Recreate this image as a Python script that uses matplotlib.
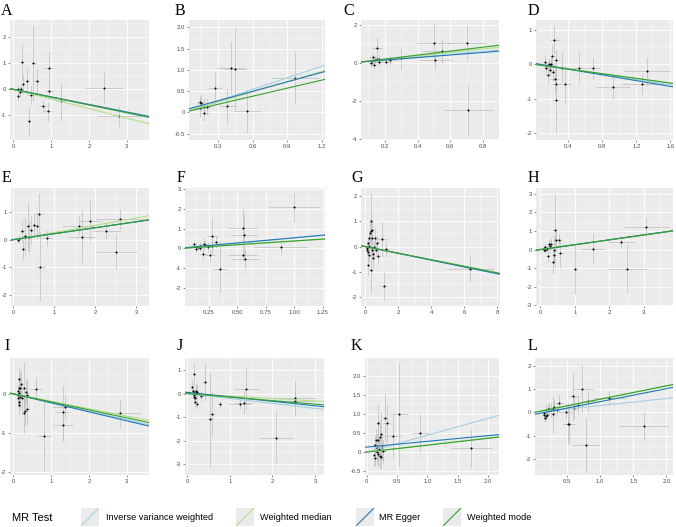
import matplotlib
matplotlib.use('Agg')
import matplotlib.pyplot as plt
import numpy as np

plt.rcParams['font.family'] = ['Liberation Sans', 'DejaVu Sans']

# ---------------- data ----------------
panel_labels = list('ABCDEFGHIJKL')

A_x = [0.11,0.13,0.18,0.19,0.22,0.26,0.35,0.41,0.47,0.53,0.62,0.79,0.91,0.93,0.95,1.25,2.40,2.80]
A_y = [0.01,-0.25,-0.10,0.03,1.06,0.22,0.32,-1.23,-0.22,1.02,0.32,-0.66,-0.85,0.83,-0.08,-0.45,0.05,-1.04]
A_sx = [0.04,0.04,0.05,0.05,0.05,0.06,0.07,0.06,0.08,0.07,0.09,0.10,0.10,0.12,0.10,0.12,0.50,0.57]
A_sy = [0.15,0.20,0.20,0.15,0.70,0.35,0.55,0.55,0.35,1.45,0.45,0.25,0.35,0.65,0.30,0.75,0.60,0.40]

B_x = [0.14,0.146,0.15,0.175,0.18,0.20,0.27,0.38,0.41,0.45,0.55,0.97]
B_y = [0.10,0.24,0.22,0.13,-0.02,0.13,0.57,0.14,1.05,1.03,0.02,0.81]
B_sx = [0.03,0.03,0.03,0.04,0.04,0.04,0.06,0.07,0.12,0.10,0.12,0.21]
B_sy = [0.20,0.15,0.20,0.20,0.18,0.20,0.37,0.42,0.62,0.98,0.50,0.61]

C_x = [0.112,0.118,0.122,0.13,0.138,0.147,0.15,0.159,0.159,0.204,0.23,0.297,0.50,0.508,0.547,0.70,0.71]
C_y = [-0.02,0.11,0.29,-0.13,0.14,0.20,0.79,0.20,0.04,0.05,0.16,0.25,1.04,0.14,0.61,1.04,-2.48]
C_sx = [0.02,0.02,0.02,0.02,0.02,0.03,0.03,0.03,0.03,0.04,0.04,0.06,0.11,0.10,0.12,0.12,0.15]
C_sy = [0.15,0.20,0.25,0.20,0.20,0.20,0.58,0.20,0.20,0.15,0.20,0.60,1.07,0.50,0.67,0.94,1.34]

D_x = [0.13,0.14,0.165,0.17,0.18,0.19,0.20,0.21,0.22,0.235,0.24,0.25,0.255,0.255,0.32,0.365,0.52,0.69,0.93,1.27,1.32]
D_y = [0.08,-0.12,-0.30,0.02,-0.02,-0.15,0.01,0.25,-0.22,0.72,-0.42,-0.57,0.13,-1.04,-0.10,-0.58,-0.10,-0.12,-0.67,-0.56,-0.20]
D_sx = [0.03,0.03,0.03,0.03,0.04,0.04,0.04,0.04,0.04,0.05,0.05,0.05,0.05,0.05,0.06,0.07,0.09,0.08,0.20,0.25,0.27]
D_sy = [0.20,0.20,0.25,0.15,0.15,0.20,0.20,0.30,0.25,0.42,0.40,0.45,0.30,0.95,0.45,0.52,0.45,0.32,0.33,0.30,0.42]

E_x = [0.12,0.14,0.22,0.23,0.28,0.36,0.38,0.44,0.50,0.57,0.62,0.66,0.81,1.59,1.67,1.87,2.27,2.51,2.60]
E_y = [-0.02,0.02,0.31,-0.35,0.12,0.49,0.09,0.35,0.54,0.51,0.94,-0.98,0.06,0.51,0.09,0.69,0.31,-0.43,0.76]
E_sx = [0.04,0.04,0.05,0.05,0.06,0.07,0.07,0.08,0.08,0.09,0.10,0.10,0.12,0.40,0.35,0.30,0.35,0.50,0.60]
E_sy = [0.10,0.15,0.40,0.35,0.70,0.90,0.60,0.50,0.45,0.50,0.75,1.25,0.30,0.35,1.00,0.75,0.30,0.65,0.35]

F_x = [0.12,0.14,0.15,0.17,0.17,0.20,0.21,0.22,0.24,0.26,0.28,0.28,0.31,0.35,0.55,0.55,0.56,0.57,0.88,1.00]
F_y = [0.22,-0.03,0.10,0.03,0.14,-0.27,0.25,0.20,0.07,-0.34,0.63,0.15,0.32,-1.01,1.01,-0.34,0.66,-0.51,0.07,2.09]
F_sx = [0.02,0.02,0.03,0.03,0.03,0.03,0.04,0.04,0.04,0.04,0.05,0.05,0.05,0.06,0.13,0.12,0.12,0.13,0.23,0.22]
F_sy = [0.15,0.15,0.20,0.15,0.20,0.25,0.30,0.20,0.25,0.30,0.90,0.30,0.30,1.20,1.05,0.30,1.10,0.50,0.40,0.76]

G_x = [0.08,0.10,0.12,0.14,0.16,0.18,0.20,0.22,0.24,0.28,0.32,0.34,0.36,0.38,0.40,0.42,0.44,0.46,0.51,0.59,0.63,0.69,0.77,0.99,1.11,1.25,6.34]
G_y = [-0.13,-0.07,0.00,-0.20,-0.73,0.13,-0.33,0.33,0.04,0.56,1.02,0.64,-0.93,-0.13,0.66,0.33,-0.30,-0.44,-0.03,0.33,-0.13,0.13,-0.36,0.29,-1.57,-0.11,-0.88]
G_sx = [0.03,0.03,0.04,0.04,0.05,0.05,0.05,0.06,0.06,0.07,0.08,0.08,0.08,0.09,0.09,0.10,0.10,0.10,0.10,0.12,0.12,0.13,0.15,0.35,0.20,0.25,1.45]
G_sy = [0.20,0.15,0.20,0.20,0.40,0.25,0.30,0.30,0.20,0.40,1.10,0.50,0.90,0.30,0.40,0.30,0.30,0.40,0.30,0.40,0.30,0.30,0.35,0.70,0.55,0.30,0.50]

H_x = [0.10,0.12,0.13,0.15,0.19,0.22,0.27,0.29,0.32,0.37,0.39,0.41,0.42,0.46,0.54,0.58,1.01,1.52,2.35,2.50,3.06]
H_y = [0.09,0.00,0.12,-0.05,0.04,-0.36,0.27,0.18,0.32,-0.68,-0.32,0.00,1.03,0.50,0.53,-0.18,-1.07,0.05,0.43,-1.03,1.21]
H_sx = [0.03,0.03,0.03,0.04,0.04,0.05,0.06,0.05,0.06,0.07,0.07,0.08,0.08,0.08,0.10,0.10,0.06,0.33,0.40,0.55,0.65]
H_sy = [0.15,0.15,0.20,0.15,0.20,0.30,0.30,0.35,0.30,0.60,0.45,0.70,1.95,0.60,0.30,0.75,1.30,0.85,0.30,1.30,0.50]

I_x = [0.11,0.12,0.13,0.14,0.15,0.15,0.15,0.16,0.17,0.18,0.21,0.23,0.27,0.29,0.30,0.33,0.36,0.37,0.60,0.82,1.31,1.31,1.36,2.82]
I_y = [0.08,-0.03,-0.11,0.16,0.02,-0.20,-0.28,0.39,0.15,-0.07,0.26,-0.11,-0.50,0.16,-0.45,0.06,-0.03,-0.39,0.13,-1.08,-0.47,-0.80,-0.34,-0.50]
I_sx = [0.02,0.02,0.02,0.03,0.03,0.03,0.03,0.03,0.03,0.03,0.04,0.04,0.05,0.05,0.05,0.05,0.06,0.06,0.15,0.17,0.22,0.26,0.35,0.56]
I_sy = [0.15,0.20,0.20,0.25,0.30,0.20,0.25,0.30,0.40,0.30,0.35,0.40,0.50,0.65,0.35,0.30,0.40,0.40,0.27,0.90,0.70,0.40,0.30,0.35]

J_x = [0.125,0.14,0.15,0.157,0.165,0.17,0.18,0.18,0.20,0.21,0.22,0.24,0.33,0.415,0.53,0.58,0.76,1.24,1.33,1.39,2.09,2.52,2.52]
J_y = [0.26,0.09,-0.06,-0.13,0.83,0.01,-0.20,-0.37,0.11,0.06,-0.44,0.06,-0.10,0.51,-1.10,-0.86,-0.46,-0.44,-0.39,0.20,-1.87,-0.20,-0.30]
J_sx = [0.02,0.02,0.02,0.02,0.03,0.03,0.03,0.03,0.03,0.03,0.03,0.04,0.05,0.06,0.07,0.08,0.06,0.25,0.20,0.30,0.40,0.50,0.50]
J_sy = [0.30,0.25,0.20,0.30,0.50,0.20,0.30,0.25,0.30,0.25,0.20,0.30,0.20,0.80,2.00,0.95,0.15,0.20,0.50,0.90,1.10,0.75,0.50]

K_x = [0.12,0.13,0.13,0.15,0.16,0.17,0.18,0.18,0.19,0.20,0.21,0.22,0.23,0.23,0.25,0.27,0.30,0.33,0.43,0.53,0.88,1.72]
K_y = [-0.07,-0.16,0.19,0.31,0.00,0.11,0.77,0.31,-0.04,0.09,-0.11,0.39,-0.13,0.46,0.13,0.02,0.90,0.75,0.41,0.99,0.50,0.10]
K_sx = [0.02,0.02,0.02,0.03,0.03,0.03,0.03,0.03,0.03,0.03,0.04,0.04,0.04,0.04,0.04,0.05,0.05,0.06,0.13,0.15,0.14,0.35]
K_sy = [0.30,0.20,0.25,0.30,0.30,0.35,0.50,0.40,0.35,0.30,0.30,0.45,0.30,0.60,0.35,0.30,0.65,0.50,0.55,1.35,0.50,0.50]

L_x = [0.146,0.157,0.167,0.177,0.187,0.19,0.207,0.232,0.258,0.283,0.293,0.308,0.343,0.384,0.485,0.52,0.535,0.596,0.60,0.667,0.727,0.778,0.823,1.14,1.66]
L_y = [-0.12,-0.04,-0.23,-0.16,0.10,-0.09,0.13,0.14,0.09,0.17,-0.07,0.22,0.10,0.39,0.01,-0.50,-0.48,0.69,0.20,0.32,1.01,-1.41,0.49,0.63,-0.58]
L_sx = [0.02,0.02,0.02,0.03,0.03,0.03,0.03,0.04,0.04,0.04,0.04,0.05,0.05,0.06,0.10,0.08,0.08,0.08,0.06,0.07,0.16,0.20,0.10,0.25,0.37]
L_sy = [0.20,0.15,0.20,0.15,0.20,0.20,0.25,0.30,0.30,0.30,0.80,0.30,0.30,0.40,0.30,0.90,0.80,1.00,0.50,0.40,1.05,1.15,0.45,0.30,0.60]

# MR estimates per panel (A..L)
method_names = ['Inverse variance weighted', 'Weighted median', 'MR Egger', 'Weighted mode']
method_colors = ['#a6cee3', '#b2df8a', '#1f78b4', '#33a02c']
ivw_slope    = [-0.30, 0.90, 0.75, -0.37, 0.22, 0.535, -0.135, 0.26, -0.22, -0.21, 0.44, 0.30]
median_slope = [-0.37, 0.80, 0.91, -0.34, 0.265, 0.37, -0.13, 0.26, -0.19, -0.105, 0.185, 0.565]
egger_slope  = [-0.29, 0.74, 0.66, -0.42, 0.215, 0.52, -0.135, 0.265, -0.23, -0.19, 0.15, 0.557]
egger_int    = [0.00, 0.05, 0.02, 0.03, 0.01, 0.02, 0.005, -0.01, 0.00, 0.05, 0.13, -0.09]
mode_slope   = [-0.30, 0.63, 1.03, -0.34, 0.22, 0.38, -0.13, 0.26, -0.205, -0.15, 0.18, 0.575]

# axis ticks / labels
x_ticks = [[0,1,2,3],[0.3,0.6,0.9,1.2],[0.2,0.4,0.6,0.8],[0.4,0.8,1.2,1.6],
           [0,1,2,3],[0.25,0.5,0.75,1.0,1.25],[0,2,4,6,8],[0,1,2,3],
           [0,1,2,3],[0,1,2,3],[0,0.5,1.0,1.5,2.0],[0.5,1.0,1.5,2.0]]
x_ticklabels = [['0','1','2','3'],['0.3','0.6','0.9','1.2'],['0.2','0.4','0.6','0.8'],['0.4','0.8','1.2','1.6'],
                ['0','1','2','3'],['0.25','0.50','0.75','1.00','1.25'],['0','2','4','6','8'],['0','1','2','3'],
                ['0','1','2','3'],['0','1','2','3'],['0','0.5','1.0','1.5','2.0'],['0.5','1.0','1.5','2.0']]
y_ticks = [[-1,0,1,2],[-0.5,0,0.5,1.0,1.5,2.0],[-4,-2,0,2],[-2,-1,0,1],
           [-2,-1,0,1],[-2,-1,0,1,2,3],[-2,-1,0,1,2],[-3,-2,-1,0,1,2,3],
           [-2,-1,0],[-3,-2,-1,0,1],[-0.5,0,0.5,1.0,1.5,2.0],[-2,-1,0,1,2]]
y_ticklabels = [['-1','0','1','2'],['-0.5','0','0.5','1.0','1.5','2.0'],['-4','-2','0','2'],['-2','-1','0','1'],
                ['-2','-1','0','1'],['-2','-1','0','1','2','3'],['-2','-1','0','1','2'],['-3','-2','-1','0','1','2','3'],
                ['-2','-1','0'],['-3','-2','-1','0','1'],['-0.5','0','0.5','1.0','1.5','2.0'],['-2','-1','0','1','2']]
x_lims = [(-0.09,3.59),(0.047,1.23),(0.05,0.90),(0.02,1.63),
          (-0.06,3.31),(0.04,1.27),(-0.26,8.18),(-0.12,3.84),
          (-0.09,3.59),(-0.05,3.21),(-0.03,2.18),(0.015,2.10)]
y_lims = [(-1.95,2.67),(-0.65,2.17),(-4.04,2.25),(-2.2,1.29),
          (-2.42,1.89),(-2.9,3.05),(-2.36,2.33),(-3.03,3.3),
          (-2.08,0.92),(-3.46,1.51),(-0.60,2.46),(-2.70,2.35)]

bx = [A_x,B_x,C_x,D_x,E_x,F_x,G_x,H_x,I_x,J_x,K_x,L_x]
by = [A_y,B_y,C_y,D_y,E_y,F_y,G_y,H_y,I_y,J_y,K_y,L_y]
sx = [A_sx,B_sx,C_sx,D_sx,E_sx,F_sx,G_sx,H_sx,I_sx,J_sx,K_sx,L_sx]
sy = [A_sy,B_sy,C_sy,D_sy,E_sy,F_sy,G_sy,H_sy,I_sy,J_sy,K_sy,L_sy]

# ---------------- layout (pixels) ----------------
W, H = 676, 527
rows = [(20, 140), (188, 306), (358, 475)]
cols = [[(10,149),(189,325),(361,499),(536,673)],
        [(11,149),(185,325),(361,500),(536,673)],
        [(10,149),(185,324),(365,499),(535,673)]]
label_pos = [[(1,15),(175,15),(343,15),(528,15)],
             [(2,182),(177,182),(351,182),(528,182)],
             [(4,350),(177,350),(351,350),(528,350)]]

fig = plt.figure(figsize=(W/100, H/100), dpi=100)

def add_ax(l, t, r, b):
    return fig.add_axes([l/W, 1-b/H, (r-l)/W, (b-t)/H])

def minor_pos(ticks, lims):
    step = ticks[1]-ticks[0]
    m = np.arange(ticks[0]-step/2, ticks[-1]+step, step)
    return [v for v in m if lims[0] <= v <= lims[1]]

for i, name in enumerate(panel_labels):
    r, c = divmod(i, 4)
    (l, rr) = cols[r][c]
    (t, b) = rows[r]
    ax = add_ax(l, t, rr, b)
    ax.set_facecolor('#EBEBEB')
    for s in ax.spines.values():
        s.set_visible(False)
    ax.set_xlim(x_lims[i]); ax.set_ylim(y_lims[i])
    ax.set_xticks(x_ticks[i]); ax.set_xticklabels(x_ticklabels[i])
    ax.set_yticks(y_ticks[i]); ax.set_yticklabels(y_ticklabels[i])
    ax.set_xticks(minor_pos(x_ticks[i], x_lims[i]), minor=True)
    ax.set_yticks(minor_pos(y_ticks[i], y_lims[i]), minor=True)
    ax.grid(which='major', color='white', lw=0.6)
    ax.grid(which='minor', color='white', lw=0.3)
    ax.set_axisbelow(True)
    ax.tick_params(which='minor', length=0)
    ax.tick_params(which='major', length=1.5, width=0.4, color='#333333',
                   labelsize=4.3, labelcolor='#4D4D4D', pad=1.2)
    ax.errorbar(bx[i], by[i], xerr=sx[i], yerr=sy[i], fmt='none',
                ecolor='#BEBEBE', elinewidth=0.5, capsize=0, zorder=2)
    ax.scatter(bx[i], by[i], s=2.2, c='black', linewidths=0, zorder=3)
    fits = [(0.0, ivw_slope[i]), (0.0, median_slope[i]),
            (egger_int[i], egger_slope[i]), (0.0, mode_slope[i])]
    for (icpt, slp), col in zip(fits, method_colors):
        ax.axline((0, icpt), slope=slp, color=col, lw=0.8, zorder=4)
    lx, ly = label_pos[r][c]
    fig.text(lx/W, 1-ly/H, name, family=['Liberation Serif', 'DejaVu Serif'],
             fontsize=11.5, va='baseline', ha='left')

# ---------------- legend ----------------
fig.text(12.5/W, 1-518/H, 'MR Test', fontsize=8, va='center', ha='left', color='black')
key_x = [81, 236, 356, 443]
txt_x = [106, 260, 379, 467]
for name, col, kx, tx in zip(method_names, method_colors, key_x, txt_x):
    kax = add_ax(kx, 508, kx+18, 526)
    kax.set_facecolor('#EBEBEB')
    for s in kax.spines.values():
        s.set_visible(False)
    kax.set_xticks([]); kax.set_yticks([])
    kax.set_xlim(0, 1); kax.set_ylim(0, 1)
    kax.plot([0, 1], [0, 1], color=col, lw=0.8)
    fig.text(tx/W, 1-517/H, name, fontsize=6.6, va='center', ha='left', color='black')

fig.savefig('out.png', dpi=100)
